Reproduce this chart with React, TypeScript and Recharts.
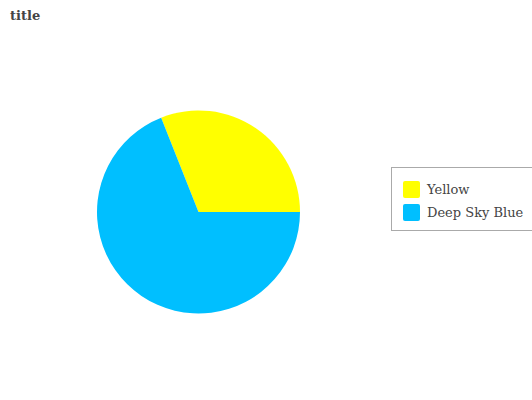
import { PieChart, Pie, Cell, Legend } from "recharts";

const categories = ["Yellow", "Deep Sky Blue"];
const values = [31, 69];
const colors = ["#FFFF00", "#00BFFF"];

const data = categories.map((name, i) => ({ name, value: values[i] }));

const FONT = "'DejaVu Serif', serif";

function LegendBox() {
  return (
    <div
      style={{
        border: "1px solid #aaa",
        background: "#fff",
        padding: "10px 0 10px 11px",
        fontFamily: FONT,
        fontSize: 13,
        color: "#444",
        boxSizing: "border-box",
        width: 160,
        height: 64,
      }}
    >
      {data.map((d, i) => (
        <div
          key={d.name}
          style={{ display: "flex", alignItems: "center", height: 23 }}
        >
          <span
            style={{
              display: "inline-block",
              width: 17,
              height: 17,
              background: colors[i],
              borderRadius: 2,
              marginRight: 7,
            }}
          />
          <span>{d.name}</span>
        </div>
      ))}
    </div>
  );
}

export default function App() {
  return (
    <div style={{ position: "absolute", left: 0, top: 0, width: 532, height: 400, background: "#fff" }}>
      <div
        style={{
          position: "absolute",
          left: 10,
          top: 8,
          fontFamily: FONT,
          fontWeight: "bold",
          fontSize: 13,
          color: "#444",
          zIndex: 2,
        }}
      >
        title
      </div>
      <PieChart width={532} height={400} margin={{ top: 0, right: 0, bottom: 0, left: 0 }}>
        <Pie
          data={data}
          dataKey="value"
          nameKey="name"
          cx={198.5}
          cy={212}
          outerRadius={101.5}
          startAngle={0}
          endAngle={360}
          stroke="none"
          isAnimationActive={false}
        >
          {data.map((d, i) => (
            <Cell key={d.name} fill={colors[i]} />
          ))}
        </Pie>
        <Legend
          content={() => <LegendBox />}
          wrapperStyle={{ position: "absolute", left: 391, top: 167, width: 160 }}
        />
      </PieChart>
    </div>
  );
}
